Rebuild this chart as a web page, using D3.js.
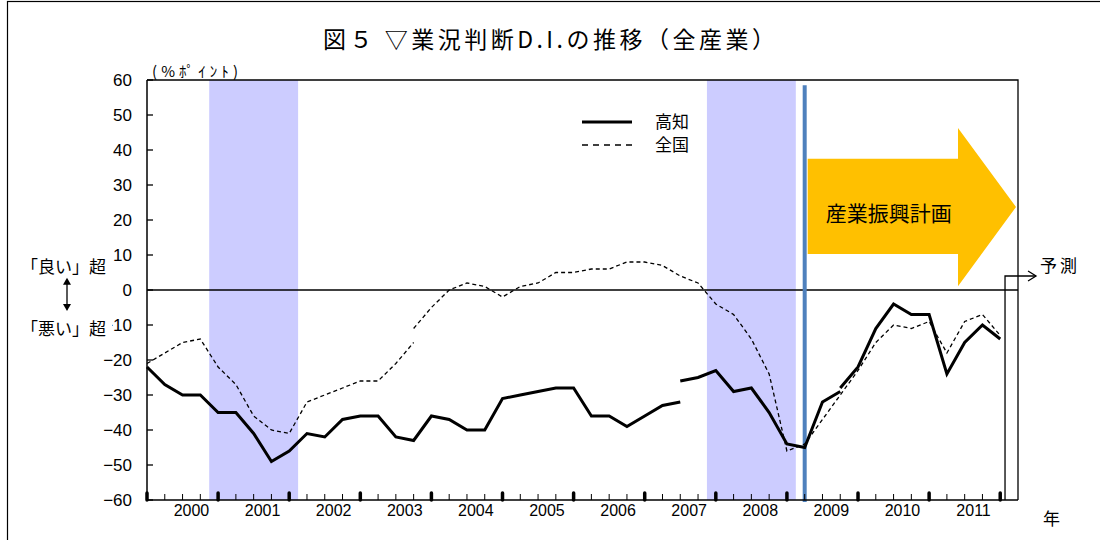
<!DOCTYPE html>
<html lang="ja">
<head>
<meta charset="utf-8">
<script src="https://cdn.jsdelivr.net/npm/d3@7/dist/d3.min.js"></script>
<style>
  html, body { margin: 0; padding: 0; background: #fff; }
  svg { display: block; }
  .num { font-family: "Liberation Sans", Arial, sans-serif; fill: #000; }
  .jp { font-family: "Noto Sans CJK JP", "Noto Sans", sans-serif; fill: #000; }
</style>
</head>
<body>
<svg id="chart" width="1100" height="540"></svg>
<script>
// Quarterly survey periods (Oct-Dec 1999 through Jan-Mar 2012)
const quarters = [
  "1999Q4",
  "2000Q1","2000Q2","2000Q3","2000Q4",
  "2001Q1","2001Q2","2001Q3","2001Q4",
  "2002Q1","2002Q2","2002Q3","2002Q4",
  "2003Q1","2003Q2","2003Q3","2003Q4",
  "2004Q1","2004Q2","2004Q3","2004Q4",
  "2005Q1","2005Q2","2005Q3","2005Q4",
  "2006Q1","2006Q2","2006Q3","2006Q4",
  "2007Q1","2007Q2","2007Q3","2007Q4",
  "2008Q1","2008Q2","2008Q3","2008Q4",
  "2009Q1","2009Q2","2009Q3","2009Q4",
  "2010Q1","2010Q2","2010Q3","2010Q4",
  "2011Q1","2011Q2","2011Q3","2011Q4",
  "2012Q1"
];

// Year labels, each centred under its four quarters
const years = ["2000","2001","2002","2003","2004","2005","2006","2007","2008","2009","2010","2011"];
const yTicks = [60, 50, 40, 30, 20, 10, 0, -10, -20, -30, -40, -50, -60];

// 高知 (Kochi) business-conditions D.I.; the survey basis changes twice
const kochiStart1 = "1999Q4";
const kochiValues1 = [-22, -27, -30, -30, -35, -35, -41, -49, -46, -41, -42, -37, -36, -36, -42, -43,
                      -36, -37, -40, -40, -31, -30, -29, -28, -28, -36, -36, -39, -36, -33, -32];
const kochiStart2 = "2007Q2";
const kochiValues2 = [-26, -25, -23, -29, -28, -35, -44, -45, -32, -29];
const kochiStart3 = "2009Q3";
const kochiValues3 = [-28, -22, -11, -4, -7, -7, -24, -15, -10, -14];

// 全国 (nationwide) D.I.; basis change in 2003
const zenkokuStart1 = "1999Q4";
const zenkokuValues1 = [-21, -18, -15, -14, -22, -27, -36, -40, -41, -32, -30, -28, -26, -26, -21, -15];
const zenkokuStart2 = "2003Q3";
const zenkokuValues2 = [-11, -5, 0, 2, 1, -2, 1, 2, 5, 5, 6, 6, 8, 8, 7, 4, 2, -4, -7, -14, -24, -46,
                        -44, -37, -30, -23, -15, -10, -11, -9, -18, -9, -7, -13];

// Recession periods (shaded), first and last quarter of each
const recessions = [["2000Q4", "2001Q4"], ["2007Q4", "2008Q4"]];
// Start of the industrial promotion plan
const planStart = "2009Q1";
const lastQuarter = "2011Q4";

const svg = d3.select("#chart");
const plotLeft = 147, plotRight = 1018, plotTop = 80, plotBottom = 500;

const x = d3.scalePoint().domain(quarters).range([plotLeft, plotRight]);
const step = x.step();
const y = d3.scaleLinear().domain([-60, 60]).range([plotBottom, plotTop]);

// outer frame
svg.append("rect").attr("x", 7.5).attr("y", 1.5).attr("width", 1200).attr("height", 700)
  .attr("fill", "none").attr("stroke", "#000").attr("stroke-width", 1.2);

// title
svg.append("text").attr("class", "jp").attr("x", 323).attr("y", 48)
  .attr("font-size", 23).attr("textLength", 452).attr("lengthAdjust", "spacing")
  .text("図５ ▽業況判断D.I.の推移（全産業）");

// recession shading
svg.append("g").selectAll("rect").data(recessions).join("rect")
  .attr("x", d => x(d[0]) - step / 2)
  .attr("width", d => x(d[1]) - x(d[0]) + step)
  .attr("y", y(60)).attr("height", y(-60) - y(60))
  .attr("fill", "#ccccff");

// plot frame (top and right)
svg.append("path")
  .attr("d", `M${plotLeft},${y(60)}H${plotRight}V${y(-60)}`)
  .attr("fill", "none").attr("stroke", "#000").attr("stroke-width", 1.3);

// zero line
svg.append("line").attr("x1", plotLeft).attr("x2", plotRight).attr("y1", y(0)).attr("y2", y(0))
  .attr("stroke", "#000").attr("stroke-width", 1.5);

// plan arrow (corners given in the chart's value units)
const ax0 = x(planStart) + 3, axTip = plotRight - 2, axNeck = axTip - 58;
const arrowPts = [[ax0, 37.5], [axNeck, 37.5], [axNeck, 46.3], [axTip, 23.7],
                  [axNeck, 1.1], [axNeck, 10.3], [ax0, 10.3]];
svg.append("path")
  .attr("d", d3.line().x(d => d[0]).y(d => y(d[1])).curve(d3.curveLinearClosed)(arrowPts))
  .attr("fill", "#ffc000");
svg.append("text").attr("class", "jp").attr("x", ax0 + 18).attr("y", y(22) + 7.5)
  .attr("font-size", 21).text("産業振興計画");

// plan start marker
svg.append("line").attr("x1", x(planStart)).attr("x2", x(planStart))
  .attr("y1", y(58.5)).attr("y2", y(-60) + 2)
  .attr("stroke", "#4f81bd").attr("stroke-width", 4);

// forecast bracket
const fx = x(lastQuarter) + step * 0.27;
svg.append("path")
  .attr("d", `M${fx},${y(-60)}V${y(4)}H${fx + 31}`)
  .attr("fill", "none").attr("stroke", "#000").attr("stroke-width", 1.3);
svg.append("path")
  .attr("d", `M${fx + 23},${y(4) - 5}L${fx + 31},${y(4)}L${fx + 23},${y(4) + 5}`)
  .attr("fill", "none").attr("stroke", "#000").attr("stroke-width", 1.3);
svg.append("text").attr("class", "jp").attr("x", fx + 35).attr("y", y(4) - 4)
  .attr("font-size", 17).attr("letter-spacing", 3).text("予測");

// series lines
function segment(start, values) {
  const i0 = quarters.indexOf(start);
  return values.map((v, k) => ({ q: quarters[i0 + k], v }));
}
const line = d3.line().x(d => x(d.q)).y(d => y(d.v));
const zenkokuSegs = [segment(zenkokuStart1, zenkokuValues1), segment(zenkokuStart2, zenkokuValues2)];
const kochiSegs = [segment(kochiStart1, kochiValues1), segment(kochiStart2, kochiValues2), segment(kochiStart3, kochiValues3)];

svg.append("g").selectAll("path").data(zenkokuSegs).join("path")
  .attr("d", line).attr("fill", "none").attr("stroke", "#000")
  .attr("stroke-width", 1.3).attr("stroke-dasharray", "4,3");
svg.append("g").selectAll("path").data(kochiSegs).join("path")
  .attr("d", line).attr("fill", "none").attr("stroke", "#000")
  .attr("stroke-width", 3).attr("stroke-linejoin", "miter");

// y axis
svg.append("line").attr("x1", plotLeft).attr("x2", plotLeft).attr("y1", y(60)).attr("y2", y(-60))
  .attr("stroke", "#000").attr("stroke-width", 1.5);
svg.append("g").selectAll("line").data(yTicks).join("line")
  .attr("x1", plotLeft).attr("x2", plotLeft + 6).attr("y1", d => y(d)).attr("y2", d => y(d))
  .attr("stroke", "#000").attr("stroke-width", 1.3);
svg.append("g").selectAll("text").data(yTicks).join("text")
  .attr("class", "num").attr("x", 132).attr("y", d => y(d) + 6)
  .attr("text-anchor", "end").attr("font-size", 17)
  .text(d => d < 0 ? "\u2212" + Math.abs(d) : d);

// x axis
svg.append("line").attr("x1", plotLeft).attr("x2", plotRight).attr("y1", plotBottom).attr("y2", plotBottom)
  .attr("stroke", "#000").attr("stroke-width", 1.5);
const tickQuarters = quarters.filter(q => q <= lastQuarter);
svg.append("g").selectAll("line").data(tickQuarters).join("line")
  .attr("x1", d => x(d)).attr("x2", d => x(d))
  .attr("y1", d => d.endsWith("Q4") ? plotBottom - 7 : plotBottom - 6).attr("y2", plotBottom)
  .attr("stroke", "#000")
  .attr("stroke-width", d => d.endsWith("Q4") ? 3.5 : 1)
  .attr("stroke-linecap", d => d.endsWith("Q4") ? "round" : "butt");
svg.append("g").selectAll("text").data(years).join("text")
  .attr("class", "num")
  .attr("x", d => (x(d + "Q1") + x(d + "Q4")) / 2)
  .attr("y", 516).attr("text-anchor", "middle").attr("font-size", 16)
  .text(d => d);
svg.append("text").attr("class", "jp").attr("x", 1043).attr("y", 525)
  .attr("font-size", 17).text("年");

// unit label
svg.append("text").attr("class", "jp").attr("x", 152).attr("y", 77)
  .attr("font-size", 15).attr("textLength", 86).attr("lengthAdjust", "spacing")
  .text("(%ﾎﾟｲﾝﾄ)");

// direction labels
svg.append("rect").attr("x", 18).attr("y", y(-10) - 11).attr("width", 94).attr("height", 22).attr("fill", "#fff");
svg.append("text").attr("class", "jp").attr("x", 21).attr("y", y(6.5) + 6)
  .attr("font-size", 17).text("「良い」超");
svg.append("text").attr("class", "jp").attr("x", 21).attr("y", y(-11) + 6)
  .attr("font-size", 17).text("「悪い」超");
svg.append("path")
  .attr("d", `M67,${y(3)}V${y(-5.5)}`)
  .attr("stroke", "#000").attr("stroke-width", 1.3);
svg.append("path").attr("d", `M63,${y(1.5)}L67,${y(3.5)}L71,${y(1.5)}Z`).attr("fill", "#000");
svg.append("path").attr("d", `M63,${y(-4)}L67,${y(-6)}L71,${y(-4)}Z`).attr("fill", "#000");

// legend
const legend = svg.append("g");
legend.append("line").attr("x1", 582).attr("x2", 632).attr("y1", 122).attr("y2", 122)
  .attr("stroke", "#000").attr("stroke-width", 3);
legend.append("line").attr("x1", 582).attr("x2", 632).attr("y1", 145).attr("y2", 145)
  .attr("stroke", "#000").attr("stroke-width", 1.3).attr("stroke-dasharray", "6,5");
legend.append("text").attr("class", "jp").attr("x", 655).attr("y", 128).attr("font-size", 17).text("高知");
legend.append("text").attr("class", "jp").attr("x", 655).attr("y", 151).attr("font-size", 17).text("全国");
</script>
</body>
</html>
